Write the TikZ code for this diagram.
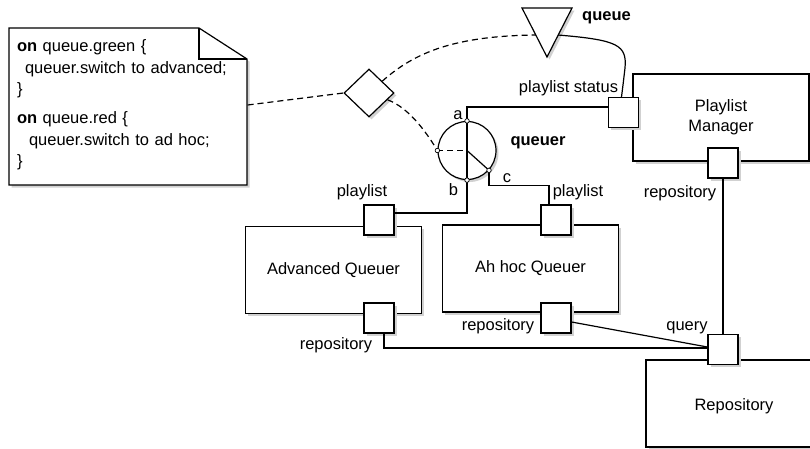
\documentclass[tikz,border=0pt]{standalone}
\usepackage{fontspec}
\setmainfont{Liberation Sans}
\usetikzlibrary{shapes.geometric,shadows,calc}

\begin{document}
\begin{tikzpicture}[x=1pt, y=-1pt,
  font=\fontsize{16.5}{21.6}\selectfont,
  line width=1.2pt,
  softshadow/.style={general shadow={fill=black!18, draw=none,
      shadow xshift=2.5pt, shadow yshift=-2.5pt}},
  comp/.style={draw, fill=white, softshadow, minimum width=176pt,
      minimum height=87pt, inner sep=0pt, align=center},
  port/.style={draw, fill=white, softshadow, minimum size=30pt, inner sep=0pt},
  joint/.style={circle, draw, fill=white, line width=0.7pt,
      minimum size=4.5pt, inner sep=0pt},
  lbl/.style={inner sep=0pt, anchor=base},
  dep/.style={dash pattern=on 6pt off 4pt},
]
\useasboundingbox (0,0) rectangle (810,448);

% annotation note: dog-eared outline, then its text
\coordinate (nnw) at (9,28);
\coordinate (nfold) at (199,28);
\coordinate (near) at (247,59);
\coordinate (nse) at (247,185);
\coordinate (nsw) at (9,185);
\draw[fill=white, softshadow] (nnw) -- (nfold) -- (near) -- (nse) -- (nsw) -- cycle;
\draw (nfold) |- (near);
\node[minimum width=238pt, minimum height=157pt, text width=222pt,
      align=left, inner xsep=8pt, inner ysep=0pt] (note) at (128,105)
  {\textbf{on} queue.green \{\\
   \hspace*{8pt}queuer.switch to advanced;\\
   \}\\[7pt]
   \textbf{on} queue.red \{\\
   \hspace*{12pt}queuer.switch to ad hoc;\\
   \}};

% components
\node[comp] (pm) at (721,117.5) {Playlist\\[-1.6pt]Manager};
\node[comp, label={[lbl]center:Advanced Queuer}] (aq) at (333.5,270) {};
\node[comp, label={[lbl]center:Ah hoc Queuer}] (ah) at (530.5,268.5) {};
\node[comp, label={[lbl, yshift=-2.5pt]center:Repository}] (repo) at (734,403.5) {};

% ports
\node[port] (ps)  at (623.5,112.5) {};
\node[port] (pmr) at (723,163) {};
\node[port] (qry) at (723,349.5) {};
\node[port] (aqp) at (379,220) {};
\node[port] (aqr) at (379,318) {};
\node[port] (ahp) at (556,220) {};
\node[port] (ahr) at (556,318) {};

% queuer switch, decision and queue signal
\node[circle, draw, fill=white, softshadow, minimum size=58pt, inner sep=0pt]
  (q) at (467,150.5) {};
\node[diamond, draw, fill=white, softshadow, minimum width=50pt,
      minimum height=48pt, inner sep=0pt] (dia) at (369,93) {};
\filldraw[fill=white, softshadow] (522,8) -- (572,8) -- (547,57) -- cycle;
\coordinate (tl) at (535.5,35);
\coordinate (tr) at (558,35);

% connectors
\draw[dep] (note.east) -- (dia.west);
\draw[dep] (dia) .. controls (415,52) and (455,36) .. (tl);
\draw[dep] (dia) .. controls (410,108) and (428,135) .. (q.west);
\draw[dep] (q.west) -- (q.center);
\draw (q.center) -- (q.-42);
\draw (q.north) -- (q.south);
\draw (q.north) |- ([yshift=5.5pt]ps.west);
\draw (q.south) |- ([yshift=7pt]aqp.east);
\draw (q.-42) -- ++(0,15) -| ([xshift=-7pt]ahp.north);
\draw (tr) .. controls (618,40) and (627,45) .. (625,68)
           .. controls (623,85) .. ([xshift=-2pt]ps.north);
\draw (pmr) -- (qry);
\draw ([xshift=5pt]aqr.south) |- ([yshift=1.5pt]qry.west);
\draw ([yshift=-4pt]ahr.east) -- ([yshift=2.5pt]qry.west);

% switch contacts
\node[joint] (ja) at (q.north) {};
\node[joint] (jb) at (q.south) {};
\node[joint] (jl) at (q.west) {};
\node[joint] (jc) at (q.-42) {};

% labels
\node[lbl] (lqueue)  at (606.5,20.5) {\textbf{queue}};
\node[lbl] (lqueuer) at (538,145.5) {\textbf{queuer}};
\node[lbl] (la) at (458,119) {a};
\node[lbl] (lb) at (453.5,195) {b};
\node[lbl] (lc) at (507,182) {c};
\node[lbl] (lps)  at (568.5,92) {playlist status};
\node[lbl] (laqp) at (362,196.5) {playlist};
\node[lbl] (lahp) at (578,196.5) {playlist};
\node[lbl] (lpmr) at (680,197.5) {repository};
\node[lbl] (laqr) at (336,349) {repository};
\node[lbl] (lahr) at (498,330) {repository};
\node[lbl] (lqry) at (687,330) {query};
\end{tikzpicture}
\end{document}
